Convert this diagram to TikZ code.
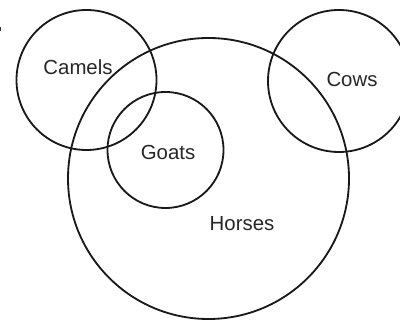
\documentclass[tikz,border=0pt]{standalone}
\usepackage{fontspec}
\setmainfont{Liberation Sans}
\usetikzlibrary{calc}

\tikzset{
    set/.style={draw=black!90, line width=1.3pt},
    setlabel/.style={font=\fontsize{14.5}{17}\selectfont, text=black!85, inner sep=0pt}
}

\begin{document}
\begin{tikzpicture}[x=0.025cm, y=0.025cm]
    % Fix the page size and cut off the part of the Cows circle that runs past the edge
    \useasboundingbox (0,0) rectangle (400,320);
    \clip (0,0) rectangle (400,320);

    % Centres of the sets
    \coordinate (camels) at (86.5,240);
    \coordinate (horses) at (208.5,141.5);
    \coordinate (goats) at (165.5,170);
    \coordinate (cows) at (339,239);

    % Draw the sets
    \draw[set] (camels) circle (70);
    \draw[set] (horses) circle (140.5);
    \draw[set] (goats) circle (58);
    \draw[set] (cows) circle (71);

    % Names of the sets
    \node[setlabel] (camelsname) at (78,253) {Camels};
    \node[setlabel] (goatsname) at (168,168) {Goats};
    \node[setlabel] (cowsname) at (352,241) {Cows};
    \node[setlabel] (horsesname) at (242,96) {Horses};

    % Small mark at the left edge
    \fill[black!80] (0,289) rectangle (1.5,293);
\end{tikzpicture}
\end{document}
